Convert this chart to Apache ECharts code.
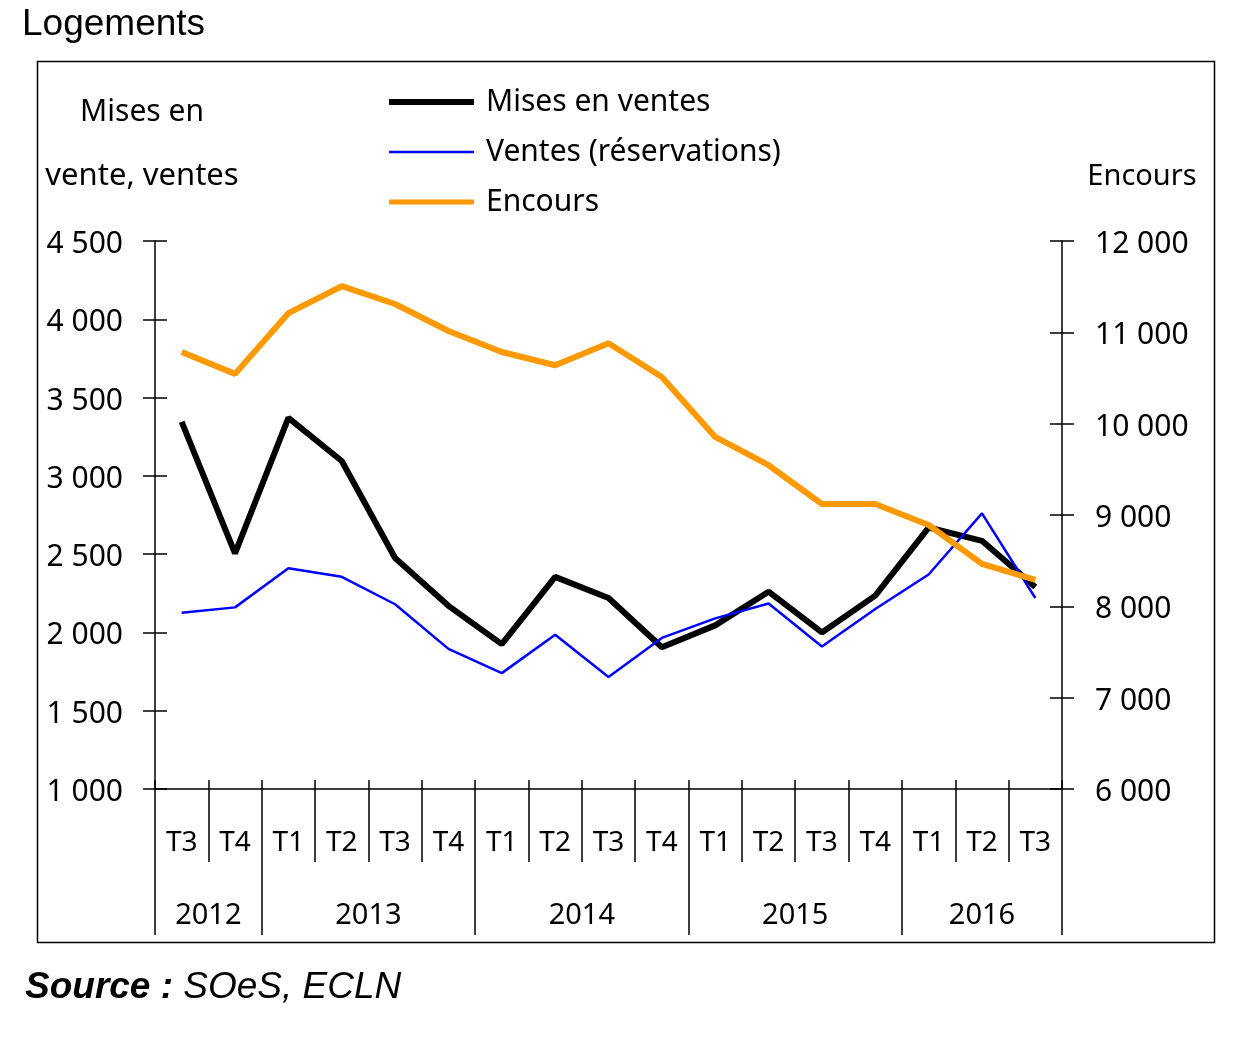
<!DOCTYPE html>
<html lang="fr">
<head>
    <meta charset="UTF-8">
    <title>Logements</title>
    <style>
        html, body { margin: 0; padding: 0; background: #fff; }
    </style>
</head>
<body>
<div id="main" style="width: 1254px;height: 1039px"></div>
<script src="https://cdn.jsdelivr.net/npm/echarts@6/dist/echarts.min.js"></script>
<script>
    // trimestres 2012 T3 -> 2016 T3
    var quarters = ['T3', 'T4', 'T1', 'T2', 'T3', 'T4', 'T1', 'T2', 'T3', 'T4', 'T1', 'T2', 'T3', 'T4', 'T1', 'T2', 'T3'];
    // axe des années : 35 positions en demi-trimestres, libellé au milieu de chaque année
    var yearLabels = ['', '', '2012', '', '', '', '', '', '2013', '', '', '', '', '', '', '', '2014', '', '', '', '', '', '', '', '2015', '', '', '', '', '', '', '2016', '', '', ''];
    var yearBounds = [0, 4, 12, 20, 28, 34];

    var misesEnVente = [3345, 2505, 3370, 3095, 2475, 2170, 1925, 2355, 2220, 1905, 2045, 2260, 2000, 2235, 2670, 2585, 2290];
    var ventes = [2125, 2160, 2410, 2355, 2180, 1895, 1740, 1985, 1715, 1965, 2090, 2185, 1910, 2150, 2370, 2760, 2220];
    var encours = [10785, 10545, 11210, 11505, 11310, 11015, 10785, 10640, 10880, 10510, 9855, 9545, 9120, 9120, 8890, 8465, 8290];

    var leftTicks = {min: 1000, max: 4500, interval: 500};
    var rightTicks = {min: 6000, max: 12000, interval: 1000};

    // libellé décalé de quelques pixels vers le bas, comme sur l'original
    function fmt(v) {
        return '{v|' + String(v).replace(/\B(?=(\d{3})+(?!\d))/g, ' ') + '}';
    }

    var font = 'Noto Sans';
    var tickRich = {v: {fontFamily: font, fontSize: 30, color: '#000', padding: [7, 0, 0, 0]}};
    var myChart = echarts.init(document.getElementById('main'));

    var option = {
        animation: false,
        backgroundColor: '#fff',
        title: [
            {
                text: 'Logements',
                left: 22,
                top: 6,
                padding: 0,
                textStyle: {fontFamily: 'Liberation Sans', fontSize: 37, fontWeight: 'normal', color: '#000'}
            },
            {
                text: '{b|Source : }{i|SOeS, ECLN}',
                left: 25,
                top: 969,
                padding: 0,
                textStyle: {
                    fontWeight: 'normal',
                    rich: {
                        b: {fontFamily: 'Liberation Sans', fontSize: 37, fontWeight: 'bold', fontStyle: 'italic', color: '#000'},
                        i: {fontFamily: 'Liberation Sans', fontSize: 37, fontWeight: 'normal', fontStyle: 'italic', color: '#000'}
                    }
                }
            }
        ],
        legend: {
            orient: 'vertical',
            left: 386,
            top: 87,
            padding: 0,
            itemWidth: 85,
            itemHeight: 14,
            itemGap: 20,
            textStyle: {fontFamily: font, fontSize: 30, color: '#000', lineHeight: 30, padding: [0, 0, 0, 7]},
            data: [
                {name: 'Mises en ventes', itemStyle: {opacity: 0}, lineStyle: {width: 6}},
                {name: 'Ventes (réservations)', itemStyle: {opacity: 0}, lineStyle: {width: 2.5}},
                {name: 'Encours', itemStyle: {opacity: 0}, lineStyle: {width: 5}}
            ]
        },
        grid: {
            left: 155,
            right: 192,
            top: 241,
            bottom: 250,
            containLabel: false
        },
        xAxis: [
            {
                type: 'category',
                position: 'bottom',
                data: quarters,
                boundaryGap: true,
                axisLine: {show: true, lineStyle: {color: '#000', width: 1.5}},
                axisTick: {show: true, interval: 0, length: 73, lineStyle: {color: '#000', width: 1.5}},
                axisLabel: {interval: 0, margin: 40, fontFamily: font, fontSize: 28, color: '#000'},
                splitLine: {show: false}
            },
            {
                type: 'category',
                position: 'bottom',
                data: quarters,
                boundaryGap: true,
                axisLine: {show: false},
                axisTick: {show: true, inside: true, interval: 0, length: 9, lineStyle: {color: '#000', width: 1.5}},
                axisLabel: {show: false},
                splitLine: {show: false}
            },
            {
                type: 'category',
                position: 'bottom',
                data: yearLabels,
                boundaryGap: false,
                axisLine: {show: false},
                axisTick: {
                    show: true,
                    length: 146,
                    interval: function (index) { return yearBounds.indexOf(index) >= 0; },
                    lineStyle: {color: '#000', width: 1.5}
                },
                axisLabel: {interval: 0, margin: 112, fontFamily: font, fontSize: 29, color: '#000'},
                splitLine: {show: false}
            }
        ],
        yAxis: [
            {
                type: 'value',
                position: 'left',
                min: leftTicks.min,
                max: leftTicks.max,
                interval: leftTicks.interval,
                axisLine: {show: true, lineStyle: {color: '#000', width: 1.5}},
                axisTick: {show: true, length: 12, lineStyle: {color: '#000', width: 1.5}},
                axisLabel: {margin: 32, fontFamily: font, fontSize: 30, color: '#000', formatter: fmt, rich: tickRich},
                splitLine: {show: false}
            },
            {
                type: 'value',
                position: 'left',
                min: leftTicks.min,
                max: leftTicks.max,
                interval: leftTicks.interval,
                axisLine: {show: false},
                axisTick: {show: true, inside: true, length: 12, lineStyle: {color: '#000', width: 1.5}},
                axisLabel: {show: false},
                splitLine: {show: false}
            },
            {
                type: 'value',
                position: 'right',
                min: rightTicks.min,
                max: rightTicks.max,
                interval: rightTicks.interval,
                axisLine: {show: true, lineStyle: {color: '#000', width: 1.5}},
                axisTick: {show: true, length: 12, lineStyle: {color: '#000', width: 1.5}},
                axisLabel: {margin: 33, fontFamily: font, fontSize: 30, color: '#000', formatter: fmt, rich: tickRich},
                splitLine: {show: false}
            },
            {
                type: 'value',
                position: 'right',
                min: rightTicks.min,
                max: rightTicks.max,
                interval: rightTicks.interval,
                axisLine: {show: false},
                axisTick: {show: true, inside: true, length: 12, lineStyle: {color: '#000', width: 1.5}},
                axisLabel: {show: false},
                splitLine: {show: false}
            }
        ],
        graphic: [
            {
                type: 'rect',
                shape: {x: 37.5, y: 61.5, width: 1177, height: 881},
                style: {fill: 'none', stroke: '#000', lineWidth: 1.5},
                silent: true
            },
            {
                type: 'text',
                x: 142, y: 97,
                style: {text: 'Mises en', fontFamily: font, fontSize: 30, fill: '#000', textAlign: 'center'}
            },
            {
                type: 'text',
                x: 142, y: 161,
                style: {text: 'vente, ventes', fontFamily: font, fontSize: 31, fill: '#000', textAlign: 'center'}
            },
            {
                type: 'text',
                x: 1142, y: 162,
                style: {text: 'Encours', fontFamily: font, fontSize: 29, fill: '#000', textAlign: 'center'}
            }
        ],
        series: [
            {
                name: 'Mises en ventes',
                type: 'line',
                xAxisIndex: 0,
                yAxisIndex: 0,
                symbol: 'none',
                lineStyle: {color: '#000', width: 6},
                itemStyle: {color: '#000'},
                data: misesEnVente
            },
            {
                name: 'Ventes (réservations)',
                type: 'line',
                xAxisIndex: 0,
                yAxisIndex: 0,
                symbol: 'none',
                lineStyle: {color: '#0000ff', width: 2.5},
                itemStyle: {color: '#0000ff'},
                data: ventes
            },
            {
                name: 'Encours',
                type: 'line',
                xAxisIndex: 0,
                yAxisIndex: 2,
                symbol: 'none',
                lineStyle: {color: '#ff9900', width: 6},
                itemStyle: {color: '#ff9900'},
                data: encours
            }
        ]
    };

    myChart.setOption(option);
</script>
</body>
</html>
